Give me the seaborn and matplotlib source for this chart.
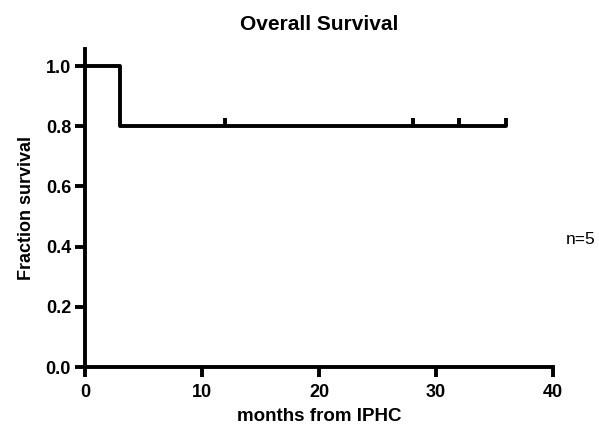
import matplotlib
matplotlib.use("Agg")
import matplotlib.pyplot as plt
import seaborn as sns
import pandas as pd

times = [0, 3, 12, 28, 32, 36]
survival = [1.0, 0.8, 0.8, 0.8, 0.8, 0.8]
censor_times = [12, 28, 32, 36]
censor_surv = [0.8, 0.8, 0.8, 0.8]
xticks = [0, 10, 20, 30, 40]
yticks = [0.0, 0.2, 0.4, 0.6, 0.8, 1.0]

sns.set_style("ticks", {"axes.edgecolor": "black", "text.color": "black",
                        "xtick.color": "black", "ytick.color": "black",
                        "axes.labelcolor": "black"})
plt.rcParams['font.family'] = ['Liberation Sans', 'DejaVu Sans']

fig = plt.figure(figsize=(5.99, 4.29), dpi=100)
ax = fig.add_axes([85/599, 1-367/429, (553-85)/599, (367-49)/429])

lw = 2.8
df = pd.DataFrame({"t": times, "s": survival})
sns.lineplot(data=df, x="t", y="s", ax=ax, drawstyle="steps-post", color="black", linewidth=lw)
cdf = pd.DataFrame({"t": censor_times, "s": censor_surv})
ax.plot(cdf["t"], cdf["s"], linestyle="none", marker=2, markersize=6, markeredgewidth=lw, color="black")

ax.set_xlim(0, 40)
ax.set_ylim(0, 1.057)
ax.set_xticks(xticks)
ax.set_yticks(yticks)
ax.set_xticklabels([str(v) for v in xticks], fontweight="bold", fontsize=13)
ax.set_yticklabels([f"{v:.1f}" for v in yticks], fontweight="bold", fontsize=13)
for s in ["top", "right"]:
    ax.spines[s].set_visible(False)
for s in ["left", "bottom"]:
    ax.spines[s].set_linewidth(lw)
ax.tick_params(width=lw, length=7, color="black", pad=3)
ax.tick_params(axis="x", pad=5)
ax.set_xlabel("months from IPHC", fontweight="bold", fontsize=13.5, labelpad=5)
ax.set_ylabel("Fraction survival", fontweight="bold", fontsize=13, labelpad=8)
ax.set_title("Overall Survival", fontweight="bold", fontsize=15, pad=14)
fig.text(566/599, 1-239/429, "n=5", fontsize=12.5, va="center", ha="left")

fig.savefig("out.png", dpi=100)
